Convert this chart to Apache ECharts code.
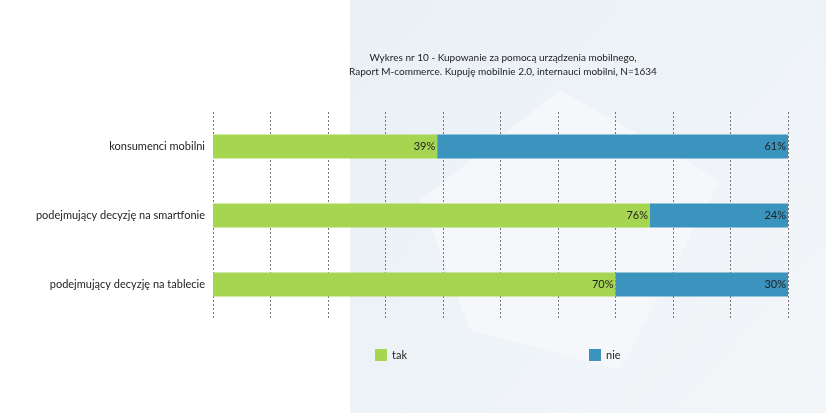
<!DOCTYPE html>
<html>
<head>
<meta charset="utf-8">
<script src="https://cdn.jsdelivr.net/npm/echarts@6/dist/echarts.min.js"></script>
<style>html,body{margin:0;padding:0;background:#fff}#chart{width:826px;height:413px}</style>
</head>
<body>
<div id="chart"></div>
<script>
// dane wykresu
const categories = ['podejmujący decyzję na tablecie', 'podejmujący decyzję na smartfonie', 'konsumenci mobilni'];
const takValues = [70, 76, 39];
const nieValues = [30, 24, 61];

const chart = echarts.init(document.getElementById('chart'));

const barLabel = {
    show: true,
    position: 'insideRight',
    formatter: '{c}%',
    color: '#222',
    fontSize: 11,
    fontFamily: 'Lato',
    distance: 2
};

chart.setOption({
    animation: false,
    textStyle: { fontFamily: 'Lato' },
    graphic: [
        {
            type: 'rect', silent: true, z: -10,
            shape: { x: 350, y: 0, width: 476, height: 413 },
            style: { fill: new echarts.graphic.LinearGradient(0, 0, 1, 1, [
                { offset: 0, color: '#e9f0f6' }, { offset: 1, color: '#f3f6f9' }
            ]) }
        },
        {
            type: 'polygon', silent: true, z: -9,
            shape: { points: [[420, 200], [560, 90], [720, 180], [620, 370], [470, 330]] },
            style: { fill: '#f7f8fa', opacity: 0.8 }
        }
    ],
    title: {
        text: 'Wykres nr 10 - Kupowanie za pomocą urządzenia mobilnego,\nRaport M-commerce. Kupuję mobilnie 2.0, internauci mobilni, N=1634',
        left: 498, top: 46, textAlign: 'center',
        textStyle: { fontSize: 10, fontWeight: 'normal', color: '#222', lineHeight: 14, fontFamily: 'Lato' }
    },
    legend: {
        top: 344, left: 370, itemGap: 182,
        itemWidth: 12, itemHeight: 12, icon: 'rect',
        textStyle: { fontSize: 11, color: '#222' },
        data: ['tak', 'nie']
    },
    grid: { left: 213, right: 38, top: 112, bottom: 94 },
    xAxis: {
        type: 'value', min: 0, max: 100, interval: 10,
        axisLabel: { show: false },
        axisLine: { show: false },
        axisTick: { show: false },
        splitLine: { show: true, lineStyle: { type: [2, 2], color: '#777', width: 1 } }
    },
    yAxis: {
        type: 'category', data: categories,
        axisLine: { show: false }, axisTick: { show: false },
        axisLabel: { color: '#222', fontSize: 11, margin: 8 }
    },
    series: [
        { name: 'tak', type: 'bar', stack: 'a', data: takValues, barWidth: 24,
          itemStyle: { color: '#a6d651' }, label: barLabel },
        { name: 'nie', type: 'bar', stack: 'a', data: nieValues, barWidth: 24,
          itemStyle: { color: '#3a94bd' }, label: barLabel }
    ]
});
</script>
</body>
</html>
